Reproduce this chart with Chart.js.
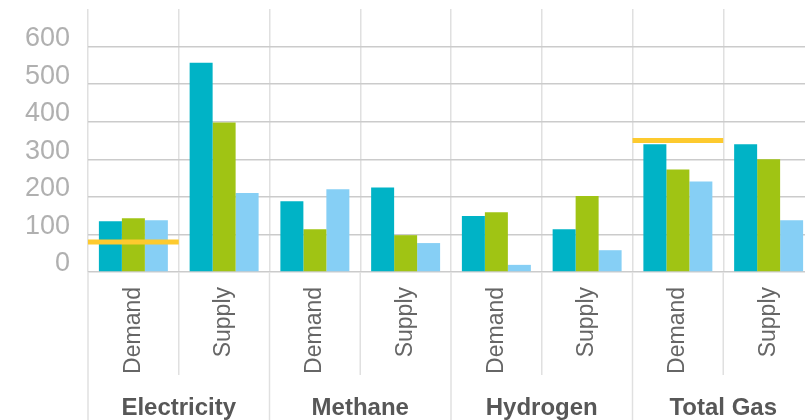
<!DOCTYPE html>
<html>
<head>
<meta charset="utf-8">
<script src="https://cdn.jsdelivr.net/npm/chart.js@4.4.1/dist/chart.umd.min.js"></script>
<style>
  html, body { margin: 0; padding: 0; background: #fff; overflow: hidden; }
  #wrap { width: 814px; height: 420px; position: relative; }
</style>
</head>
<body>
<div id="wrap"><canvas id="energyChart"></canvas></div>
<script>
// categories
const groups = ["Electricity", "Methane", "Hydrogen", "Total Gas"];
const sides = ["Demand", "Supply", "Demand", "Supply", "Demand", "Supply", "Demand", "Supply"];

// series values
const seriesTeal = [135, 557, 188, 225, 149, 114, 340, 340];
const seriesGreen = [143, 398, 114, 98, 159, 202, 273, 300];
const seriesBlue = [138, 210, 220, 77, 19, 58, 241, 138];

// yellow target markers
const targets = [80, null, null, null, null, null, 350, null];

// y tick labels
const yTicks = [0, 100, 200, 300, 400, 500, 600];

const LINE_LIGHT = "#e0e0e0";

// draws the separators below the axis and the group names
const groupAxisPlugin = {
  id: "groupAxis",
  afterDraw(chart) {
    const ctx = chart.ctx;
    const x = chart.scales.x;
    const step = x.width / sides.length;
    const top = chart.chartArea.bottom;

    ctx.save();
    ctx.strokeStyle = LINE_LIGHT;
    ctx.lineWidth = 1.5;
    for (let i = 0; i <= sides.length; i++) {
      const px = x.left + i * step;
      ctx.beginPath();
      ctx.moveTo(px, top);
      ctx.lineTo(px, i % 2 === 0 ? chart.height : top + 103);
      ctx.stroke();
    }

    ctx.fillStyle = "#575757";
    ctx.font = "bold 24px 'Liberation Sans', Arial, sans-serif";
    ctx.textAlign = "center";
    ctx.textBaseline = "middle";
    groups.forEach((g, i) => {
      ctx.fillText(g, x.left + (i * 2 + 1) * step, top + 136);
    });
    ctx.restore();
  },
};

function noPad(s) {
  s.paddingTop = 0;
  s.paddingBottom = 0;
  s.paddingLeft = 0;
  s.paddingRight = 0;
}

new Chart(document.getElementById("energyChart"), {
  type: "bar",
  data: {
    labels: sides,
    datasets: [
      {
        type: "line",
        data: targets,
        showLine: false,
        order: 0,
        pointStyle: "line",
        pointRadius: (c) => {
          const s = c.chart.scales.x;
          return s ? s.width / sides.length / 2 : 45;
        },
        pointBorderWidth: 5,
        pointBorderColor: "#fdca2e",
        pointBackgroundColor: "#fdca2e",
      },
      { data: seriesTeal, backgroundColor: "#00b3c6", order: 1 },
      { data: seriesGreen, backgroundColor: "#a0c414", order: 1 },
      { data: seriesBlue, backgroundColor: "#86cff5", order: 1 },
    ],
  },
  options: {
    responsive: true,
    maintainAspectRatio: false,
    animation: false,
    events: [],
    layout: { padding: { top: 9, left: 0, right: 0, bottom: 0 } },
    datasets: {
      bar: { categoryPercentage: 0.76, barPercentage: 1, borderWidth: 0 },
    },
    plugins: {
      legend: { display: false },
      tooltip: { enabled: false },
    },
    scales: {
      x: {
        offset: true,
        border: { display: false },
        grid: { offset: true, color: LINE_LIGHT, lineWidth: 1.5, drawTicks: false },
        ticks: {
          minRotation: 90,
          maxRotation: 90,
          padding: 15,
          color: "#666666",
          font: { family: "'Liberation Sans', Arial, sans-serif", size: 23 },
        },
        afterFit: (s) => { s.height = 148; noPad(s); },
      },
      y: {
        min: 0,
        max: 700,
        border: { display: false },
        grid: { color: "#cbcbcb", lineWidth: 1.5, drawTicks: false },
        afterBuildTicks: (s) => {
          s.ticks = yTicks.map((v) => ({ value: v }));
        },
        ticks: {
          padding: 18,
          labelOffset: -8,
          color: "#b0b0b0",
          font: { family: "'Liberation Sans', Arial, sans-serif", size: 27 },
        },
        afterFit: (s) => { s.width = 88; noPad(s); },
      },
    },
  },
  plugins: [groupAxisPlugin],
});
</script>
</body>
</html>
